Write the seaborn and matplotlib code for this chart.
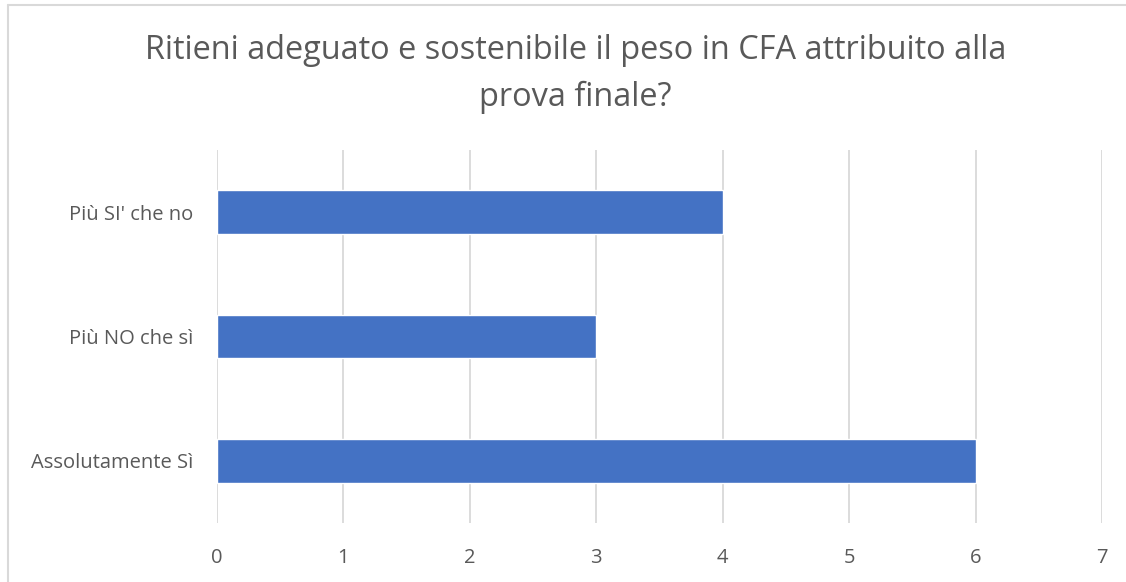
# horizontal bar chart: peso in CFA della prova finale

import matplotlib.pyplot as plt
from matplotlib.lines import Line2D
import seaborn as sns
import pandas as pd

categories = ["Più SI' che no", "Più NO che sì", "Assolutamente Sì"]
counts = [4, 3, 6]
x_ticks = [0, 1, 2, 3, 4, 5, 6, 7]
title = "Ritieni adeguato e sostenibile il peso in CFA attribuito alla\nprova finale?"

BAR_COLOR = "#4472C4"
TEXT_COLOR = "#595959"
GRID_COLOR = "#D9D9D9"


def main():
    sns.set_theme(style="white")
    plt.rcParams["font.family"] = ["Open Sans", "DejaVu Sans"]

    df = pd.DataFrame({"risposta": categories, "conteggio": counts})

    fig = plt.figure(figsize=(11.26, 5.82), dpi=100)
    ax = fig.add_axes([0.1927, 0.1014, 0.786, 0.6409])

    sns.barplot(data=df, x="conteggio", y="risposta", order=categories,
                color=BAR_COLOR, width=0.35, saturation=1, ax=ax, zorder=3)

    ax.set_xlim(0, 7)
    ax.set_ylim(2.5, -0.5)
    ax.set_xticks(x_ticks)
    ax.xaxis.grid(True, color=GRID_COLOR, linewidth=1.3, zorder=0)
    ax.set_axisbelow(True)
    for s in ax.spines.values():
        s.set_visible(False)
    ax.set_xlabel("")
    ax.set_ylabel("")
    ax.tick_params(axis="both", length=0, labelsize=14.5, labelcolor=TEXT_COLOR)
    ax.tick_params(axis="x", pad=18)
    ax.tick_params(axis="y", pad=17)

    fig.text(0.511, 1 - 74 / 582, title, ha="center", va="center", fontsize=23.4,
             color=TEXT_COLOR, linespacing=1.56)

    # chart frame (top and left edge visible)
    fig.add_artist(Line2D([8 / 1126, 1.0], [1 - 5 / 582, 1 - 5 / 582],
                          color=GRID_COLOR, linewidth=1.5))
    fig.add_artist(Line2D([8 / 1126, 8 / 1126], [0.0, 1 - 5 / 582],
                          color=GRID_COLOR, linewidth=1.5))

    fig.savefig("out.png", dpi=100, facecolor="white")
    plt.close(fig)


if __name__ == "__main__":
    main()
